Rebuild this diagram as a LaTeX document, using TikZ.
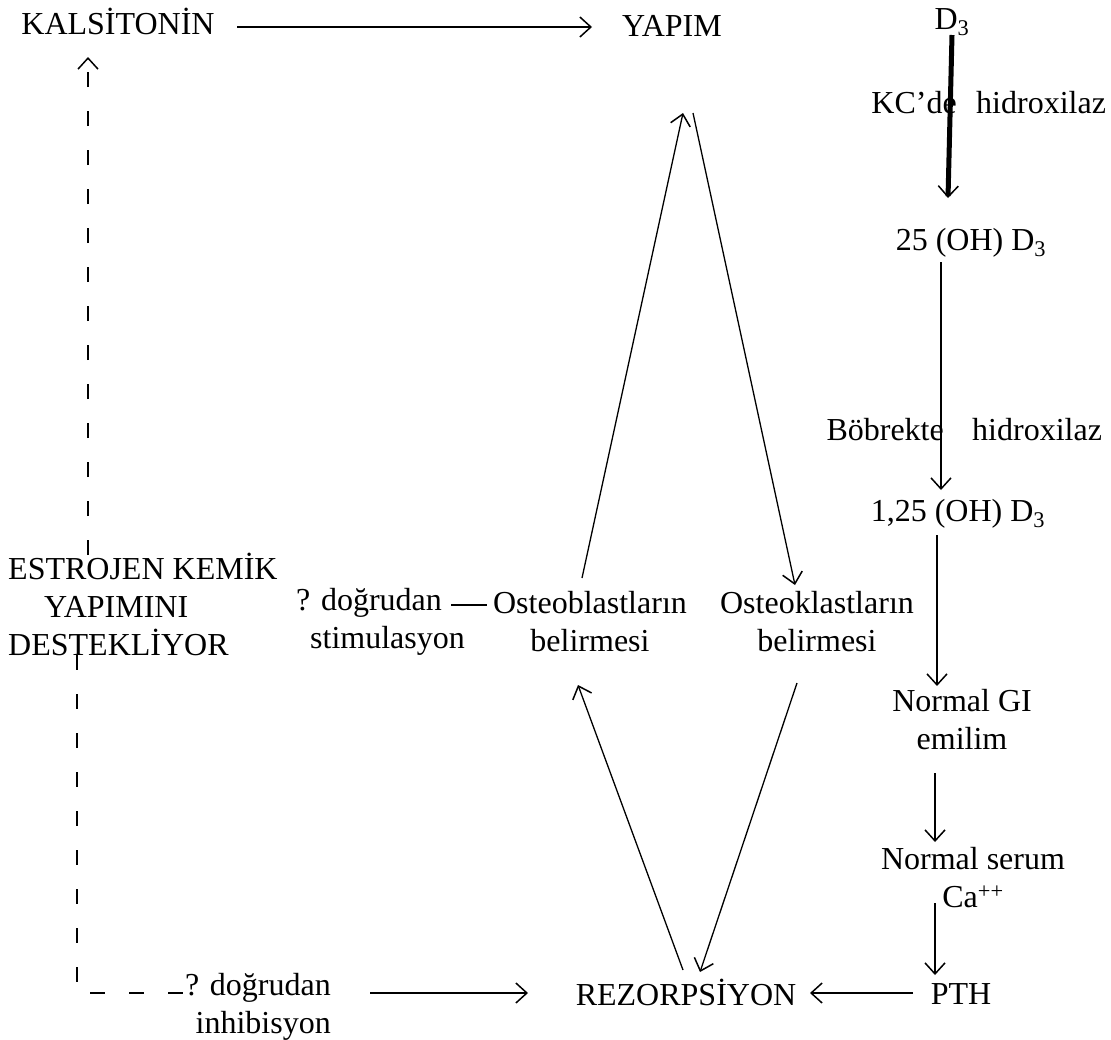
\documentclass[tikz,border=0pt]{standalone}
\usepackage{fontspec}
\setmainfont{Liberation Serif}
\usetikzlibrary{arrows.meta}
\begin{document}
\begin{tikzpicture}[x=1pt,y=-1pt,
  txt/.style={font=\fontsize{32}{38}\selectfont, inner sep=0pt},
  arr/.style={line width=1.3pt, -{Straight Barb[length=11pt,width=20pt,line width=1.5pt]}},
  plain/.style={line width=1.3pt},
  dsh/.style={line width=1.3pt, dash pattern=on 15pt off 24pt},
]
\useasboundingbox[fill=white] (0,0) rectangle (1111,1039);
% nodes
\node[txt] (kal) at (118,21) {KALSİTONİN};
\node[txt] (yap) at (672,26) {YAPIM};
\node[txt] (d3) at (952,22) {D\textsubscript{3}};
\node[txt, anchor=east] (kc1) at (957,103) {KC’de};
\node[txt, anchor=west] (kc2) at (976,103) {hidroxilaz};
\node[txt] (oh25) at (971,243) {25 (OH) D\textsubscript{3}};
\node[txt, anchor=east] (bob1) at (944,430) {Böbrekte};
\node[txt, anchor=west] (bob2) at (972,430) {hidroxilaz};
\node[txt] (oh125) at (958,514) {1,25 (OH) D\textsubscript{3}};
\node[txt, align=center] (gi) at (962,720) {Normal GI\\emilim};
\node[txt, align=center] (ser) at (973,878) {Normal serum\\Ca\textsuperscript{++}};
\node[txt] (pth) at (961,994) {PTH};
\node[txt] (rez) at (686,992) {REZORPSİYON};
\node[txt, align=right, anchor=east] (inh) at (331,1007) {? doğrudan\\inhibisyon};
\node[txt, align=left, anchor=west] (est) at (8,604) {ESTROJEN KEMİK\\\hspace*{36pt}YAPIMINI\\DESTEKLİYOR};
\node[txt, align=left, anchor=west] (stim) at (296,622) {? doğrudan\\\hspace*{14pt}stimulasyon};
\node[txt, align=center] (ob) at (590,622) {Osteoblastların\\belirmesi};
\node[txt, align=center] (ok) at (817,622) {Osteoklastların\\belirmesi};
% coordinates for connector ends
\coordinate (kalR) at (237,27); \coordinate (yapL) at (592,27);
\coordinate (d3B) at (952,35); \coordinate (oh25T) at (948,198);
\coordinate (oh25B) at (941,262); \coordinate (oh125T) at (941,490);
\coordinate (oh125B) at (937,535); \coordinate (giT) at (937,686);
\coordinate (giB) at (935,773); \coordinate (serT) at (935,842);
\coordinate (serB) at (935,903); \coordinate (pthT) at (935,975);
\coordinate (pthL) at (913,993); \coordinate (rezR) at (810,993);
\coordinate (inhR) at (370,993); \coordinate (rezL) at (528,993);
\coordinate (stimR) at (451,605); \coordinate (obL) at (487,605);
\coordinate (obT) at (582,578); \coordinate (yapB1) at (683,113);
\coordinate (yapB2) at (693,113); \coordinate (okT) at (795,585);
\coordinate (rezT1) at (683,970); \coordinate (obB) at (578,685);
\coordinate (okB) at (797,683); \coordinate (rezT2) at (700,972);
\coordinate (estT) at (88,555); \coordinate (kalB) at (88,57);
\coordinate (estB) at (77,655); \coordinate (corner) at (77,993);
\coordinate (inhL) at (183,993);
% connectors
\draw[arr] (kalR) -- (yapL);
\draw[arr, line width=5pt] (d3B) -- (oh25T);
\draw[arr] (oh25B) -- (oh125T);
\draw[arr] (oh125B) -- (giT);
\draw[arr] (giB) -- (serT);
\draw[arr] (serB) -- (pthT);
\draw[arr] (pthL) -- (rezR);
\draw[arr] (inhR) -- (rezL);
\draw[plain] (stimR) -- (obL);
\draw[arr] (obT) -- (yapB1);
\draw[arr] (yapB2) -- (okT);
\draw[arr] (rezT1) -- (obB);
\draw[arr] (okB) -- (rezT2);
\draw[dsh, -{Straight Barb[length=11pt,width=20pt,line width=1.5pt]}] (estT) -- (kalB);
\draw[dsh] (estB) -- (corner) -- (inhL);
\end{tikzpicture}
\end{document}
